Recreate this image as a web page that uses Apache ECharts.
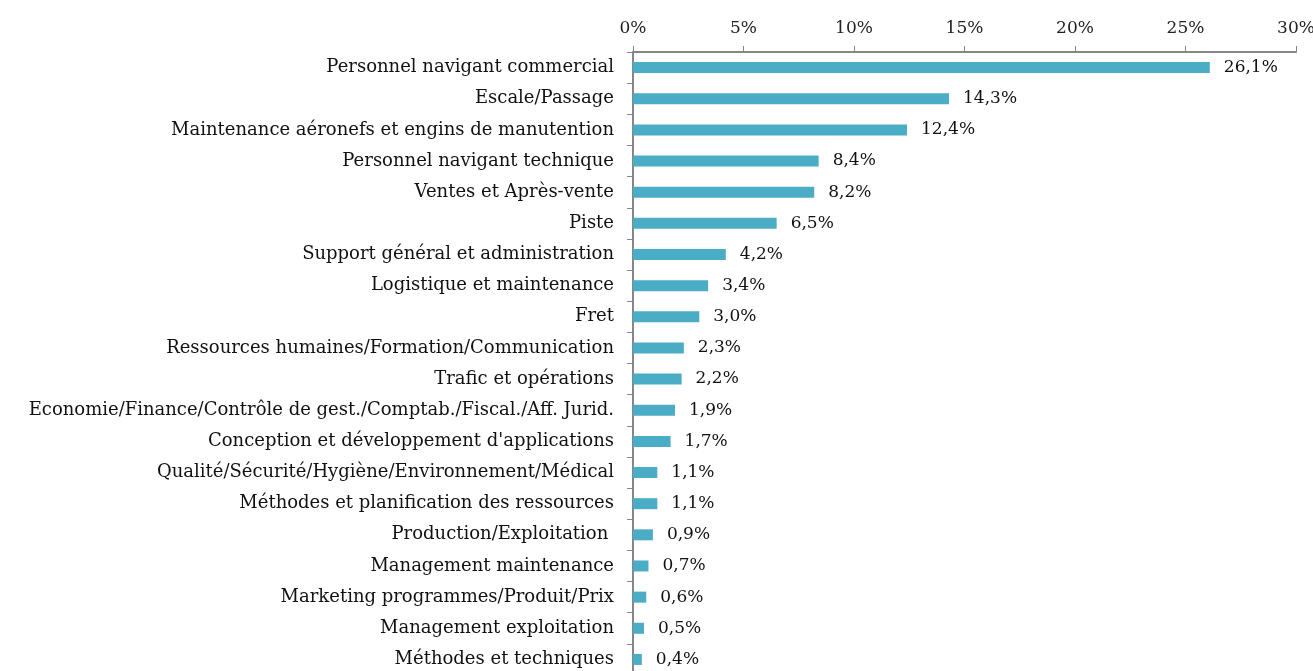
<!DOCTYPE html>
<html>
<head>
<meta charset="utf-8">
<script src="https://cdn.jsdelivr.net/npm/echarts@6/dist/echarts.min.js"></script>
<style>
  html, body { margin: 0; padding: 0; background: #fff; }
  #chart { width: 1313px; height: 671px; }
</style>
</head>
<body>
<div id="chart"></div>
<script>
const categories = [
    'Personnel navigant commercial',
    'Escale/Passage',
    'Maintenance aéronefs et engins de manutention',
    'Personnel navigant technique',
    'Ventes et Après-vente',
    'Piste',
    'Support général et administration',
    'Logistique et maintenance',
    'Fret',
    'Ressources humaines/Formation/Communication',
    'Trafic et opérations',
    'Economie/Finance/Contrôle de gest./Comptab./Fiscal./Aff. Jurid.',
    "Conception et développement d'applications",
    'Qualité/Sécurité/Hygiène/Environnement/Médical',
    'Méthodes et planification des ressources',
    'Production/Exploitation ',
    'Management maintenance',
    'Marketing programmes/Produit/Prix',
    'Management exploitation',
    'Méthodes et techniques'
];
const shares = [26.1, 14.3, 12.4, 8.4, 8.2, 6.5, 4.2, 3.4, 3.0, 2.3, 2.2, 1.9, 1.7, 1.1, 1.1, 0.9, 0.7, 0.6, 0.5, 0.4];

const fontFamily = '"DejaVu Serif", serif';
const axisGrey = '#868686';

const chart = echarts.init(document.getElementById('chart'));
chart.setOption({
    animation: false,
    textStyle: { fontFamily: fontFamily },
    grid: {
        left: 633,
        right: 17,
        top: 52,
        height: 623,   // last row is cut by the bottom edge, as in the original
        outerBoundsMode: 'none',
        containLabel: false
    },
    xAxis: {
        type: 'value',
        position: 'top',
        min: 0,
        max: 30,
        interval: 5,
        axisLine: { show: true, lineStyle: { color: axisGrey, width: 2 } },
        axisTick: { show: true, length: 6, lineStyle: { color: axisGrey, width: 1 } },
        splitLine: { show: false },
        axisLabel: {
            formatter: '{value}%',
            color: '#222',
            fontSize: 17,
            fontFamily: fontFamily,
            margin: 15
        }
    },
    yAxis: {
        type: 'category',
        inverse: true,
        data: categories,
        axisLine: { show: true, lineStyle: { color: axisGrey, width: 2 } },
        axisTick: { show: true, length: 6, lineStyle: { color: axisGrey, width: 1 } },
        axisLabel: {
            color: '#111',
            fontSize: 18,
            fontFamily: fontFamily,
            margin: 19,
            interval: 0
        }
    },
    series: [
        {
            type: 'bar',
            data: shares,
            barWidth: 11,
            itemStyle: { color: '#4BACC6' },
            label: {
                show: true,
                position: 'right',
                distance: 14,
                color: '#111',
                fontSize: 17,
                fontFamily: fontFamily,
                formatter: p => p.value.toFixed(1).replace('.', ',') + '%'
            }
        }
    ]
});
</script>
</body>
</html>
